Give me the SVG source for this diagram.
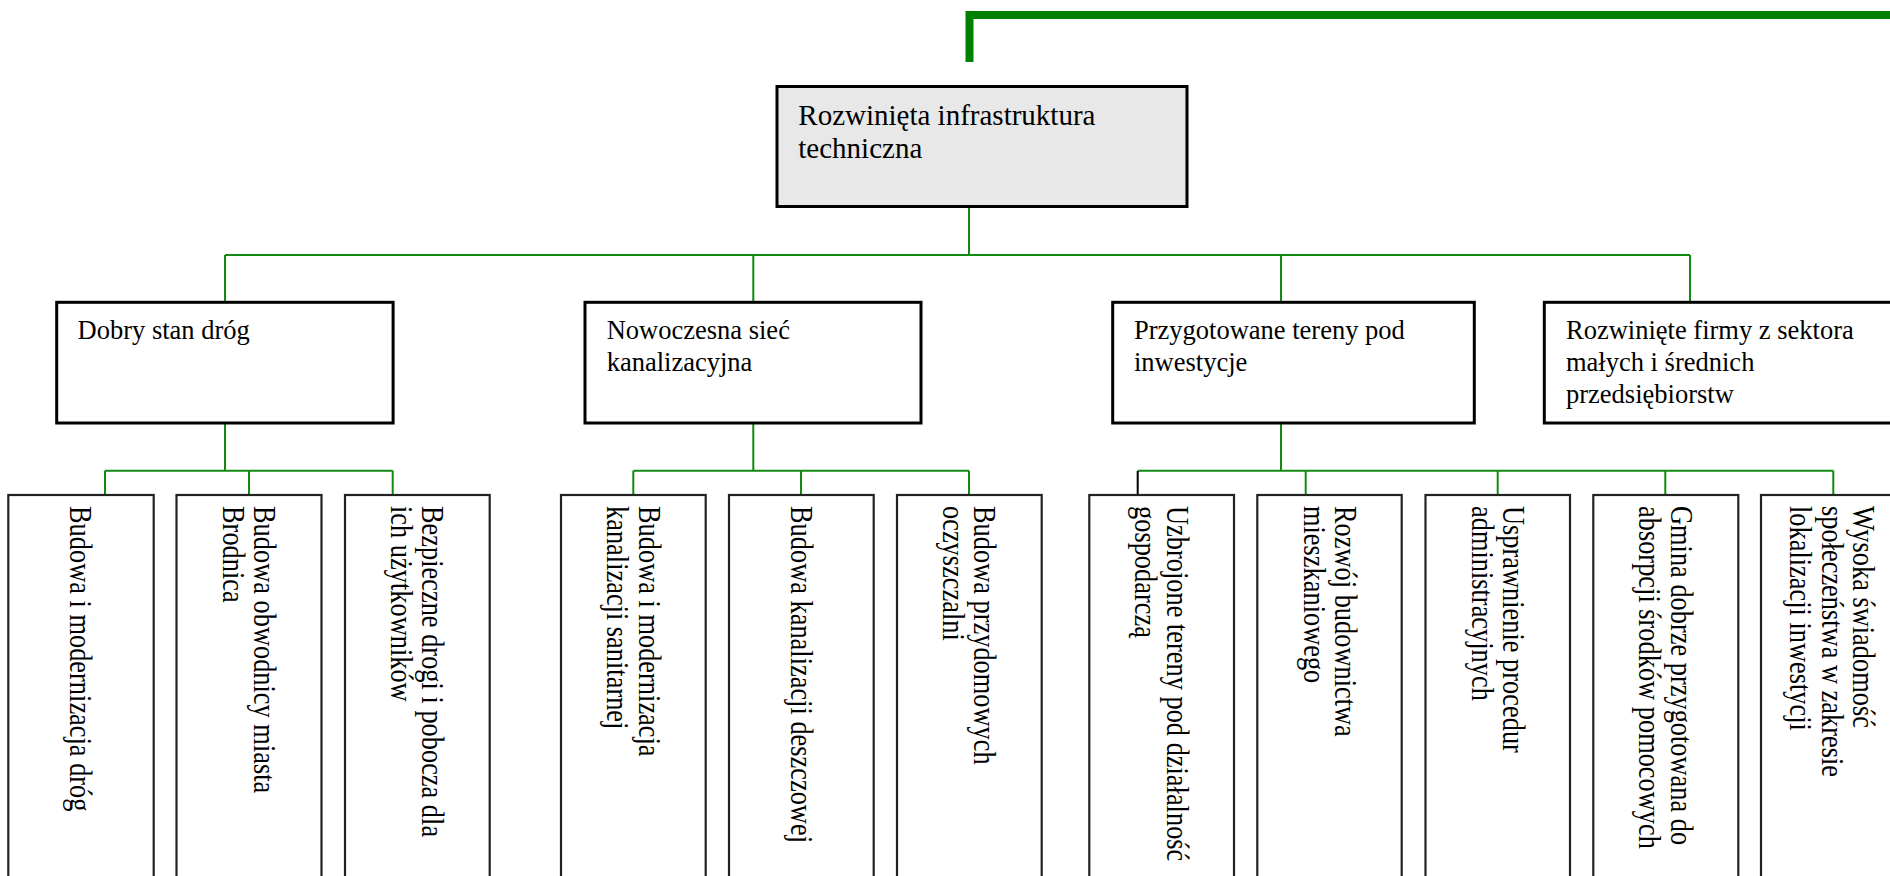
<svg xmlns="http://www.w3.org/2000/svg" width="1890" height="876" viewBox="0 0 1890 876">
<style>
.bg{fill:#ffffff}
.root{fill:#e8e8e8;stroke:#000;stroke-width:3}
.mid{fill:#fff;stroke:#000;stroke-width:3}
.leaf{fill:#fff;stroke:#222;stroke-width:2.2}
.t{font-family:"Liberation Serif","Times New Roman",serif;fill:#000}
.tr{font-size:29px}
.tm{font-size:26.5px}
.tl{font-size:26.4px}
.ln{fill:none;stroke:#108a10;stroke-width:2}
.lk{fill:none;stroke:#000;stroke-width:2}
.thick{fill:none;stroke:#008000;stroke-width:8}
</style>
<rect class="bg" x="0" y="0" width="1890" height="876"/>
<g id="connectors">
<path class="thick" d="M969.5,62 V15 H1890"/>
<path class="ln" d="M969,207 V255 M225,255 H1690 M225,255 V302 M753.3,255 V302 M1281,255 V302 M1690,255 V302"/>
<path class="ln" d="M225,423 V470.7 M105,470.7 H392.7 M105,470.7 V495 M249,470.7 V495 M392.7,470.7 V495"/>
<path class="ln" d="M753.3,423 V470.7 M633.3,470.7 H969 M633.3,470.7 V495 M801,470.7 V495 M969,470.7 V495"/>
<path class="ln" d="M1281,423 V470.7 M1137.7,470.7 H1833.3 M1305.7,470.7 V495 M1497.7,470.7 V495 M1665.3,470.7 V495 M1833.3,470.7 V495"/>
<path class="lk" d="M1137.7,471 V495"/>
</g>
<g id="root">
<rect class="root" x="777" y="86.5" width="410" height="120"/>
<text class="t tr" x="798.3" y="125">Rozwinięta infrastruktura<tspan x="798.3" dy="32.7">techniczna</tspan></text>
</g>
<g id="n1">
<rect class="mid" x="56.7" y="302.3" width="336.4" height="120.7"/>
<text class="t tm" x="77.6" y="339.3">Dobry stan dróg</text>
</g>
<g id="n2">
<rect class="mid" x="585" y="302.3" width="336" height="120.7"/>
<text class="t tm" x="606.7" y="339.3">Nowoczesna sieć<tspan x="606.7" dy="31.5">kanalizacyjna</tspan></text>
</g>
<g id="n3">
<rect class="mid" x="1112.7" y="302.3" width="361.6" height="120.7"/>
<text class="t tm" x="1134" y="339.3">Przygotowane tereny pod<tspan x="1134" dy="31.5">inwestycje</tspan></text>
</g>
<g id="n4">
<rect class="mid" x="1544.3" y="302.3" width="362" height="120.7"/>
<text class="t tm" x="1566" y="339.3">Rozwinięte firmy z sektora<tspan x="1566" dy="31.7">małych i średnich</tspan><tspan x="1566" dy="31.7">przedsiębiorstw</tspan></text>
</g>
<g id="l1">
<rect class="leaf" x="8.3" y="495" width="145.4" height="400"/>
<text class="t tl" transform="translate(70,506) rotate(90) scale(1,1.2)">Budowa i modernizacja dróg</text>
</g>
<g id="l2">
<rect class="leaf" x="176.5" y="495" width="145" height="400"/>
<text class="t tl" transform="translate(254,506) rotate(90) scale(1,1.2)">Budowa obwodnicy miasta<tspan x="0" dy="26.25">Brodnica</tspan></text>
</g>
<g id="l3">
<rect class="leaf" x="345" y="495" width="144.7" height="400"/>
<text class="t tl" transform="translate(422,506) rotate(90) scale(1,1.2)">Bezpieczne drogi i pobocza dla<tspan x="0" dy="26.25">ich użytkowników</tspan></text>
</g>
<g id="l4">
<rect class="leaf" x="561" y="495" width="144.7" height="400"/>
<text class="t tl" transform="translate(638.6,506) rotate(90) scale(1,1.2)">Budowa i modernizacja<tspan x="0" dy="26.25">kanalizacji sanitarnej</tspan></text>
</g>
<g id="l5">
<rect class="leaf" x="729" y="495" width="144.7" height="400"/>
<text class="t tl" transform="translate(790.5,506) rotate(90) scale(1,1.2)">Budowa kanalizacji deszczowej</text>
</g>
<g id="l6">
<rect class="leaf" x="897" y="495" width="144.7" height="400"/>
<text class="t tl" transform="translate(974,506) rotate(90) scale(1,1.2)">Budowa przydomowych<tspan x="0" dy="26.25">oczyszczalni</tspan></text>
</g>
<g id="l7">
<rect class="leaf" x="1089.3" y="495" width="144.7" height="400"/>
<text class="t tl" transform="translate(1166.7,506) rotate(90) scale(1,1.2)">Uzbrojone tereny pod działalność<tspan x="0" dy="26.25">gospodarczą</tspan></text>
</g>
<g id="l8">
<rect class="leaf" x="1257.3" y="495" width="144.4" height="400"/>
<text class="t tl" transform="translate(1335,506) rotate(90) scale(1,1.2)">Rozwój budownictwa<tspan x="0" dy="26.25">mieszkaniowego</tspan></text>
</g>
<g id="l9">
<rect class="leaf" x="1425.5" y="495" width="144.5" height="400"/>
<text class="t tl" transform="translate(1503,506) rotate(90) scale(1,1.2)">Usprawnienie procedur<tspan x="0" dy="26.25">administracyjnych</tspan></text>
</g>
<g id="l10">
<rect class="leaf" x="1593.3" y="495" width="145" height="400"/>
<text class="t tl" transform="translate(1670.6,506) rotate(90) scale(1,1.2)">Gmina dobrze przygotowana do<tspan x="0" dy="26.25">absorpcji środków pomocowych</tspan></text>
</g>
<g id="l11">
<rect class="leaf" x="1761" y="495" width="145" height="400"/>
<text class="t tl" transform="translate(1853.3,506) rotate(90) scale(1,1.2)">Wysoka świadomość<tspan x="0" dy="26.25">społeczeństwa w zakresie</tspan><tspan x="0" dy="26.25">lokalizacji inwestycji</tspan></text>
</g>
</svg>
